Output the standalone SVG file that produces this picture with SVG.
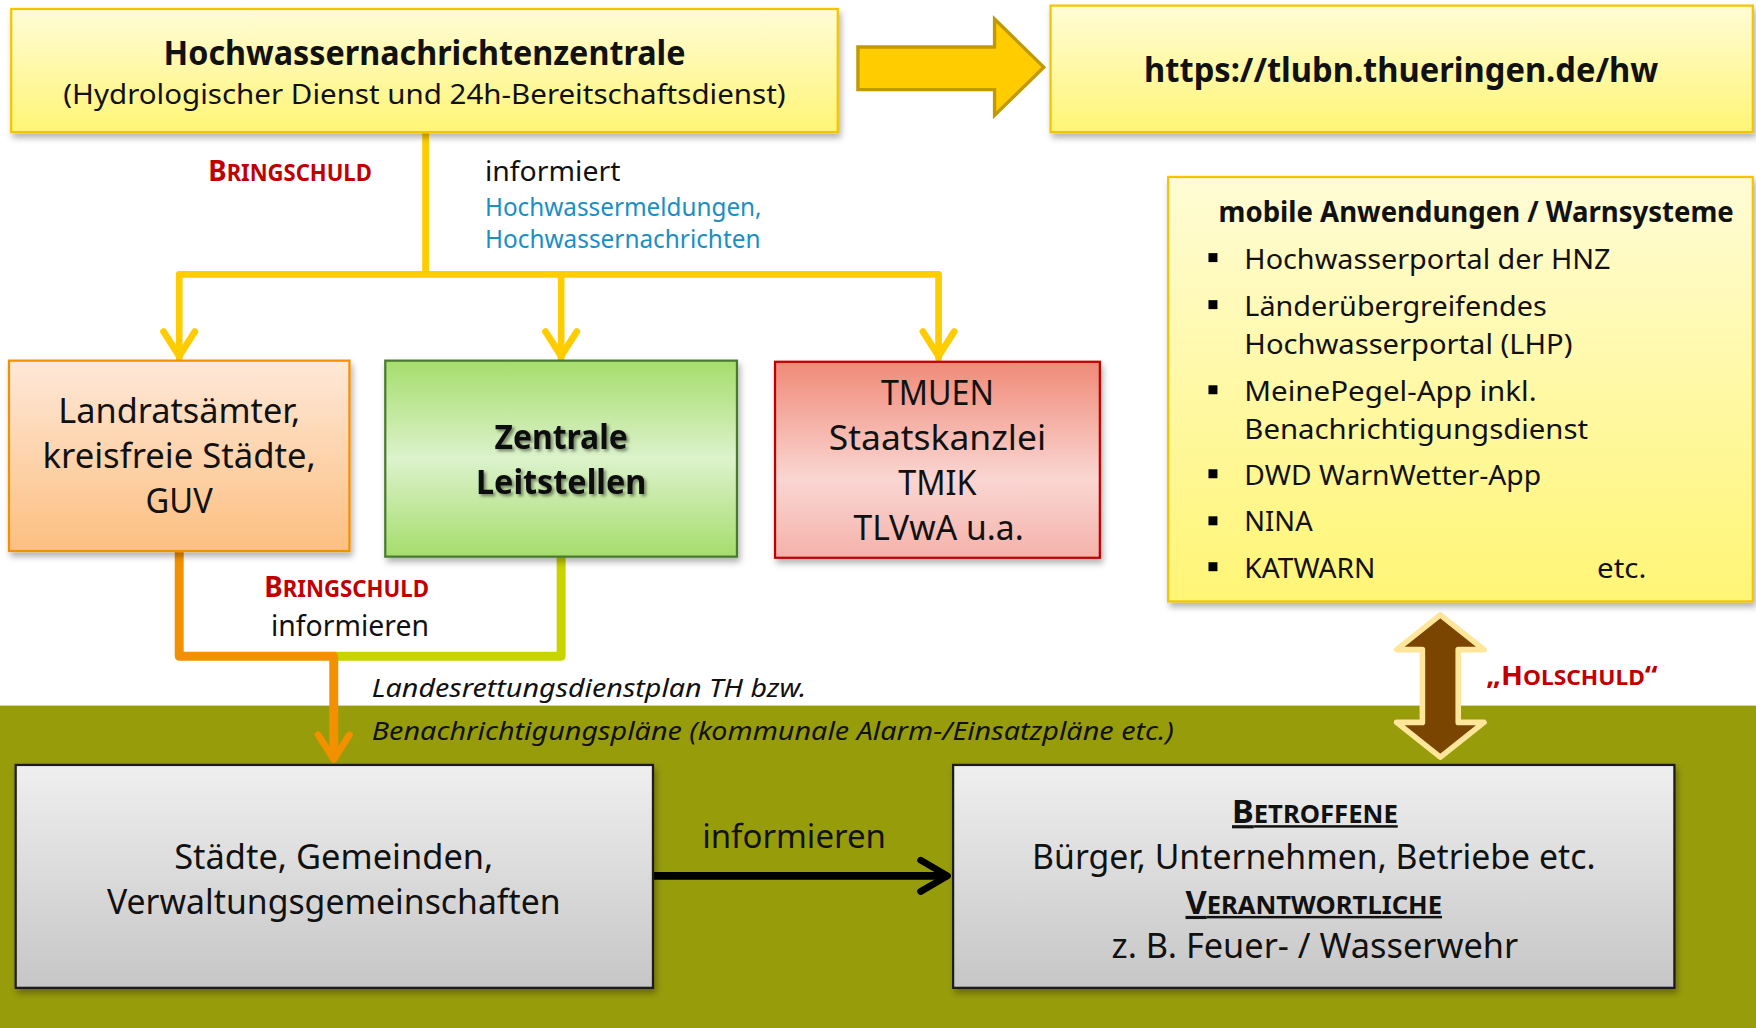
<svg xmlns="http://www.w3.org/2000/svg" width="1756" height="1028" viewBox="0 0 1756 1028">
<defs>
<style>
text{font-family:"Noto Sans","Open Sans","DejaVu Sans",sans-serif;fill:#111}
.b{font-weight:bold}
.c{text-anchor:middle}
.red{fill:#c00000;font-weight:bold}
.blue{fill:#1b8ec4}
.it{font-style:italic}
.ybox{fill:url(#gy);stroke:#f5c400;stroke-width:2}
.gbox{fill:url(#gg);stroke:#1a1a1a;stroke-width:2}
.yl{fill:none;stroke:#ffcc00;stroke-width:6;stroke-linecap:round;stroke-linejoin:round}
</style>
<linearGradient id="gy" x1="0" y1="0" x2="0" y2="1"><stop offset="0" stop-color="#fffcd6"/><stop offset="1" stop-color="#fff575"/></linearGradient>
<linearGradient id="go" x1="0" y1="0" x2="0" y2="1"><stop offset="0" stop-color="#fee8d8"/><stop offset="1" stop-color="#fcbf80"/></linearGradient>
<linearGradient id="ggr" x1="0" y1="0" x2="0" y2="1"><stop offset="0" stop-color="#a6dd6c"/><stop offset="0.5" stop-color="#dcf2cc"/><stop offset="1" stop-color="#a6dd6c"/></linearGradient>
<linearGradient id="gr" x1="0" y1="0" x2="0" y2="1"><stop offset="0" stop-color="#f08a78"/><stop offset="0.6" stop-color="#fad6d2"/><stop offset="1" stop-color="#f4b2aa"/></linearGradient>
<linearGradient id="gg" x1="0" y1="0" x2="0" y2="1"><stop offset="0" stop-color="#efefef"/><stop offset="1" stop-color="#c6c6c6"/></linearGradient>
<filter id="sh" x="-10%" y="-10%" width="120%" height="130%"><feDropShadow dx="2" dy="4" stdDeviation="3" flood-color="#000" flood-opacity="0.3"/></filter>
<filter id="ts" x="-10%" y="-20%" width="120%" height="150%"><feDropShadow dx="2" dy="2" stdDeviation="1.5" flood-color="#000" flood-opacity="0.45"/></filter>
</defs>
<rect width="1756" height="1028" fill="#fff"/>
<g transform="scale(1.12)">
<rect id="bg-olive" x="0" y="630" width="1568" height="288" fill="#979c0b"/>

<g id="connectors">
<path class="yl" d="M380,118 V245 M160,320 V245 H838 V320 M501,245 V320"/>
<path class="yl" d="M146,296 L160,318 L174,296 M487,296 L501,318 L515,296 M824,296 L838,318 L852,296"/>
<path d="M501,497 V586 H298" fill="none" stroke="#c8d400" stroke-width="8" stroke-linejoin="round"/>
<path d="M160,492 V586 H298 V678" fill="none" stroke="#f39000" stroke-width="8" stroke-linejoin="round"/>
<path d="M284,656 L298,678 L312,656" fill="none" stroke="#f39000" stroke-width="6" stroke-linecap="round" stroke-linejoin="round"/>
<path d="M584,782 H846" stroke="#000" stroke-width="7"/>
<path d="M822,768 L846,782 L822,796" fill="none" stroke="#000" stroke-width="6" stroke-linecap="round" stroke-linejoin="round"/>
<path id="big-arrow" d="M766,42 H888 V17 L932,60 L888,103 V80 H766 Z" fill="#ffcc00" stroke="#c09a00" stroke-width="3" stroke-linejoin="miter"/>
<path id="double-arrow" d="M1286,549 L1247,580 H1270 V645 H1247 L1286,676 L1325,645 H1302 V580 H1325 Z" fill="#7a4500" stroke="#ffe69a" stroke-width="5" stroke-linejoin="round"/>
</g>

<g id="labels">
<text class="red" x="332" y="162" text-anchor="end" textLength="146" lengthAdjust="spacingAndGlyphs"><tspan font-size="25">B</tspan><tspan font-size="20">RINGSCHULD</tspan></text>
<text x="433" y="162" font-size="25" textLength="121" lengthAdjust="spacingAndGlyphs">informiert</text>
<text class="blue" x="433" y="193" font-size="22" textLength="247" lengthAdjust="spacingAndGlyphs">Hochwassermeldungen,</text>
<text class="blue" x="433" y="221" font-size="22" textLength="246" lengthAdjust="spacingAndGlyphs">Hochwassernachrichten</text>
<text class="red" x="236" y="533" textLength="147" lengthAdjust="spacingAndGlyphs"><tspan font-size="25">B</tspan><tspan font-size="20">RINGSCHULD</tspan></text>
<text x="242" y="568" font-size="26" textLength="141" lengthAdjust="spacingAndGlyphs">informieren</text>
<text class="it" x="332" y="622" font-size="23" textLength="388" lengthAdjust="spacingAndGlyphs">Landesrettungsdienstplan TH bzw.</text>
<text class="it" x="332" y="661" font-size="23" textLength="716" lengthAdjust="spacingAndGlyphs">Benachrichtigungspläne (kommunale Alarm-/Einsatzpläne etc.)</text>
<text x="627" y="757" font-size="30" textLength="164" lengthAdjust="spacingAndGlyphs">informieren</text>
<text class="red" x="1327" y="612" textLength="153" lengthAdjust="spacingAndGlyphs"><tspan font-size="24">„H</tspan><tspan font-size="19">OLSCHULD</tspan><tspan font-size="24">“</tspan></text>
</g>

<g id="hnz">
<rect class="ybox" x="10" y="8" width="738" height="110" filter="url(#sh)"/>
<text class="b c" x="379" y="58" font-size="30" textLength="466" lengthAdjust="spacingAndGlyphs">Hochwassernachrichtenzentrale</text>
<text class="c" x="379" y="93" font-size="25" textLength="645" lengthAdjust="spacingAndGlyphs">(Hydrologischer Dienst und 24h-Bereitschaftsdienst)</text>
</g>

<g id="url">
<rect class="ybox" x="938" y="5" width="627" height="113" filter="url(#sh)"/>
<text class="b c" x="1251" y="73" font-size="30" textLength="459" lengthAdjust="spacingAndGlyphs">https://tlubn.thueringen.de/hw</text>
</g>

<g id="mobile">
<rect class="ybox" x="1043" y="158" width="522" height="379" filter="url(#sh)"/>
<text class="b" x="1088" y="198" font-size="25" textLength="460" lengthAdjust="spacingAndGlyphs">mobile Anwendungen / Warnsysteme</text>
<g fill="#000">
<rect x="1079" y="226" width="8" height="8"/>
<rect x="1079" y="268" width="8" height="8"/>
<rect x="1079" y="344" width="8" height="8"/>
<rect x="1079" y="419" width="8" height="8"/>
<rect x="1079" y="461" width="8" height="8"/>
<rect x="1079" y="502" width="8" height="8"/>
</g>
<text x="1111" y="240" font-size="25" textLength="327" lengthAdjust="spacingAndGlyphs">Hochwasserportal der HNZ</text>
<text x="1111" y="282" font-size="25" textLength="270" lengthAdjust="spacingAndGlyphs">Länderübergreifendes</text>
<text x="1111" y="316" font-size="25" textLength="293" lengthAdjust="spacingAndGlyphs">Hochwasserportal (LHP)</text>
<text x="1111" y="358" font-size="25" textLength="261" lengthAdjust="spacingAndGlyphs">MeinePegel-App inkl.</text>
<text x="1111" y="392" font-size="25" textLength="307" lengthAdjust="spacingAndGlyphs">Benachrichtigungsdienst</text>
<text x="1111" y="433" font-size="25" textLength="265" lengthAdjust="spacingAndGlyphs">DWD WarnWetter-App</text>
<text x="1111" y="474" font-size="25" textLength="61" lengthAdjust="spacingAndGlyphs">NINA</text>
<text x="1111" y="516" font-size="25" textLength="117" lengthAdjust="spacingAndGlyphs">KATWARN</text>
<text x="1426" y="516" font-size="25" textLength="44" lengthAdjust="spacingAndGlyphs">etc.</text>
</g>

<g id="landrat">
<rect x="8" y="322" width="304" height="170" fill="url(#go)" stroke="#f39000" stroke-width="2" filter="url(#sh)"/>
<text class="c" x="160" y="378" font-size="31" textLength="216" lengthAdjust="spacingAndGlyphs">Landratsämter,</text>
<text class="c" x="160" y="418" font-size="31" textLength="244" lengthAdjust="spacingAndGlyphs">kreisfreie Städte,</text>
<text class="c" x="160" y="458" font-size="31" textLength="60" lengthAdjust="spacingAndGlyphs">GUV</text>
</g>

<g id="leitstellen">
<rect x="344" y="322" width="314" height="175" fill="url(#ggr)" stroke="#4a7a30" stroke-width="2" filter="url(#sh)"/>
<text class="b c" x="501" y="401" font-size="31" textLength="119" lengthAdjust="spacingAndGlyphs" filter="url(#ts)">Zentrale</text>
<text class="b c" x="501" y="441" font-size="31" textLength="152" lengthAdjust="spacingAndGlyphs" filter="url(#ts)">Leitstellen</text>
</g>

<g id="tmuen">
<rect x="692" y="323" width="290" height="175" fill="url(#gr)" stroke="#c00000" stroke-width="2" filter="url(#sh)"/>
<text class="c" x="837" y="362" font-size="31" textLength="101" lengthAdjust="spacingAndGlyphs">TMUEN</text>
<text class="c" x="837" y="402" font-size="31" textLength="194" lengthAdjust="spacingAndGlyphs">Staatskanzlei</text>
<text class="c" x="837" y="442" font-size="31" textLength="70" lengthAdjust="spacingAndGlyphs">TMIK</text>
<text class="c" x="838" y="482" font-size="31" textLength="152" lengthAdjust="spacingAndGlyphs">TLVwA u.a.</text>
</g>

<g id="staedte">
<rect class="gbox" x="14" y="683" width="569" height="199" filter="url(#sh)"/>
<text class="c" x="298" y="776" font-size="31" textLength="285" lengthAdjust="spacingAndGlyphs">Städte, Gemeinden,</text>
<text class="c" x="298" y="816" font-size="31" textLength="405" lengthAdjust="spacingAndGlyphs">Verwaltungsgemeinschaften</text>
</g>

<g id="betroffene">
<rect class="gbox" x="851" y="683" width="644" height="199" filter="url(#sh)"/>
<text class="b c" x="1174" y="735" text-decoration="underline" textLength="148" lengthAdjust="spacingAndGlyphs"><tspan font-size="28">B</tspan><tspan font-size="22">ETROFFENE</tspan></text>
<text class="c" x="1173" y="776" font-size="31" textLength="503" lengthAdjust="spacingAndGlyphs">Bürger, Unternehmen, Betriebe etc.</text>
<text class="b c" x="1173" y="816" text-decoration="underline" textLength="229" lengthAdjust="spacingAndGlyphs"><tspan font-size="28">V</tspan><tspan font-size="22">ERANTWORTLICHE</tspan></text>
<text class="c" x="1174" y="855" font-size="31" textLength="363" lengthAdjust="spacingAndGlyphs">z. B. Feuer- / Wasserwehr</text>
</g>
</g>
</svg>
